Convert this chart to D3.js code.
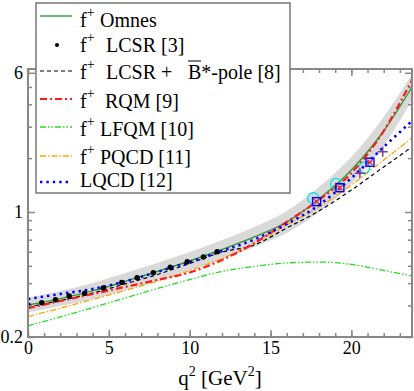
<!DOCTYPE html>
<html>
<head>
<meta charset="utf-8">
<script src="https://cdn.jsdelivr.net/npm/d3@7"></script>
<style>
body{margin:0;background:#fff}
text{font-family:"Liberation Serif","Times New Roman",serif}
</style>
</head>
<body>
<div id="chart"></div>
<script>
// q^2 grid (GeV^2) the curves were read at
var qGrid = [0, 2, 4, 6, 8, 10, 12, 14, 16, 18, 20, 22, 23.75];

var omnes     = [0.302, 0.328, 0.362, 0.409, 0.465, 0.532, 0.617, 0.725, 0.879, 1.182, 1.717, 2.836, 4.997];
var omnesHigh = [0.332, 0.362, 0.401, 0.456, 0.519, 0.597, 0.697, 0.824, 1.013, 1.379, 2.030, 3.396, 5.906];
var omnesLow  = [0.274, 0.298, 0.326, 0.366, 0.414, 0.474, 0.546, 0.637, 0.763, 1.000, 1.434, 2.338, 4.227];
var lcsrPole  = [0.294, 0.320, 0.352, 0.396, 0.447, 0.515, 0.597, 0.654, 0.814, 1.013, 1.327, 1.785, 2.308];
var rqm       = [0.290, 0.318, 0.348, 0.381, 0.417, 0.459, 0.539, 0.670, 0.879, 1.167, 1.652, 2.836, 5.468];
var lfqm      = [0.231, 0.259, 0.292, 0.330, 0.373, 0.419, 0.465, 0.496, 0.519, 0.525, 0.509, 0.471, 0.439];
var pqcd      = [0.260, 0.290, 0.324, 0.364, 0.411, 0.471, 0.549, 0.666, 0.846, 1.066, 1.415, 1.953, 2.592];
var lqcd      = [0.326, 0.348, 0.371, 0.409, 0.462, 0.525, 0.605, 0.702, 0.856, 1.094, 1.548, 2.308, 3.226];

// LCSR points [3]
var lcsrQ = [0, 0.85, 1.7, 2.55, 3.5, 4.65, 5.8, 6.75, 7.75, 8.8, 9.85, 10.85, 11.7];
var lcsrF = [0.302, 0.311, 0.323, 0.339, 0.351, 0.376, 0.404, 0.429, 0.458, 0.491, 0.527, 0.560, 0.600];

// lattice points near q^2 max
var circleQ = [17.64, 19.05, 20.8];
var circleF = [1.193, 1.434, 1.769];
var squareQ = [17.85, 19.29, 21.15];
var squareF = [1.142, 1.367, 1.897];
var plusQ = [20.53, 21.94];
var plusF = [1.646, 2.174];

var xMajor = [0, 5, 10, 15, 20];
var xMinor = d3.range(0, 24);
var yMajor = [0.2, 1, 6];
var yMinor = [0.3, 0.4, 0.5, 0.6, 0.7, 0.8, 0.9, 2, 3, 4, 5];

var width = 414, height = 391;
var plot = {left: 28, right: 412, top: 69, bottom: 337};

var x = d3.scaleLinear().domain([0, 23.75]).range([plot.left, plot.right]);
var y = d3.scaleLog().domain([0.2, 6.3]).range([plot.bottom, plot.top]);

var svg = d3.select('#chart').append('svg')
  .attr('width', width).attr('height', height);

svg.append('clipPath').attr('id', 'clip')
  .append('rect')
  .attr('x', plot.left).attr('y', plot.top)
  .attr('width', plot.right - plot.left).attr('height', plot.bottom - plot.top);

var body = svg.append('g').attr('clip-path', 'url(#clip)');

// uncertainty band of the Omnes result
var band = d3.area()
  .x(function(d){ return x(d.q); })
  .y0(function(d){ return y(d.lo); })
  .y1(function(d){ return y(d.hi); })
  .curve(d3.curveMonotoneX);

body.append('path')
  .datum(qGrid.map(function(q, i){ return {q: q, lo: omnesLow[i], hi: omnesHigh[i]}; }))
  .attr('d', band)
  .attr('fill', '#d9d9d9');

var line = d3.line()
  .x(function(d){ return x(d.q); })
  .y(function(d){ return y(d.f); })
  .curve(d3.curveMonotoneX);

var curves = [
  {vals: lfqm,     color: '#22dd22', w: 1.3, dash: '6,2,1.5,2,1.5,2'},
  {vals: pqcd,     color: '#ffa500', w: 1.3, dash: '6,2,1.5,2'},
  {vals: lcsrPole, color: '#000000', w: 1.2, dash: '4,3'},
  {vals: omnes,    color: '#2e9a2e', w: 1.4, dash: null},
  {vals: rqm,      color: '#ff1a1a', w: 2.2, dash: '7,3,2,3'},
  {vals: lqcd,     color: '#0000ff', w: 2.6, dash: '2.4,4'}
];

curves.forEach(function(c){
  body.append('path')
    .datum(qGrid.map(function(q, i){ return {q: q, f: c.vals[i]}; }))
    .attr('d', line)
    .attr('fill', 'none')
    .attr('stroke', c.color)
    .attr('stroke-width', c.w)
    .attr('stroke-dasharray', c.dash);
});

// LCSR dots
body.selectAll('circle.lcsr').data(lcsrQ).enter().append('circle')
  .attr('class', 'lcsr')
  .attr('cx', function(d){ return x(d); })
  .attr('cy', function(d, i){ return y(lcsrF[i]); })
  .attr('r', 2.7)
  .attr('fill', '#000');

// lattice markers
body.selectAll('circle.cyan').data(circleQ).enter().append('circle')
  .attr('cx', function(d){ return x(d); })
  .attr('cy', function(d, i){ return y(circleF[i]); })
  .attr('r', 5.5)
  .attr('fill', 'none').attr('stroke', '#00e5e5').attr('stroke-width', 1.3);

var sq = body.selectAll('g.sq').data(squareQ).enter().append('g')
  .attr('transform', function(d, i){ return 'translate(' + x(d) + ',' + y(squareF[i]) + ')'; });
sq.append('rect').attr('x', -4).attr('y', -4).attr('width', 8).attr('height', 8)
  .attr('fill', 'none').attr('stroke', '#0000ff').attr('stroke-width', 1.4);
sq.append('path').attr('d', 'M-2.5,-2.5L2.5,2.5M-2.5,2.5L2.5,-2.5')
  .attr('stroke', '#ff2020').attr('stroke-width', 1.3);

body.selectAll('path.plus').data(plusQ).enter().append('path')
  .attr('transform', function(d, i){ return 'translate(' + x(d) + ',' + y(plusF[i]) + ')'; })
  .attr('d', 'M-5,0H5M0,-5V5')
  .attr('stroke', '#8b3a8b').attr('stroke-width', 1.5);

// axes
function styleAxis(g){
  g.select('.domain').remove();
  g.selectAll('line').attr('stroke', '#888').attr('stroke-width', 1.5);
  g.selectAll('text').attr('fill', '#000').attr('font-size', 18)
    .attr('font-family', '"Liberation Serif","Times New Roman",serif');
}

svg.append('g').attr('transform', 'translate(0,' + plot.bottom + ')')
  .call(d3.axisBottom(x).tickValues(xMinor).tickSize(-4).tickFormat(''))
  .call(styleAxis);
svg.append('g').attr('transform', 'translate(0,' + plot.bottom + ')')
  .call(d3.axisBottom(x).tickValues(xMajor).tickSize(-7).tickPadding(4).tickFormat(d3.format('d')))
  .call(styleAxis);
svg.append('g').attr('transform', 'translate(0,' + plot.top + ')')
  .call(d3.axisTop(x).tickValues(xMinor).tickSize(-4).tickFormat(''))
  .call(styleAxis);
svg.append('g').attr('transform', 'translate(0,' + plot.top + ')')
  .call(d3.axisTop(x).tickValues(xMajor).tickSize(-7).tickFormat(''))
  .call(styleAxis);

svg.append('g').attr('transform', 'translate(' + plot.left + ',0)')
  .call(d3.axisLeft(y).tickValues(yMinor).tickSize(-4).tickFormat(''))
  .call(styleAxis);
svg.append('g').attr('transform', 'translate(' + plot.left + ',0)')
  .call(d3.axisLeft(y).tickValues(yMajor).tickSize(-7).tickPadding(5).tickFormat(function(d){ return d; }))
  .call(styleAxis);
svg.append('g').attr('transform', 'translate(' + plot.right + ',0)')
  .call(d3.axisRight(y).tickValues(yMinor).tickSize(-4).tickFormat(''))
  .call(styleAxis);
svg.append('g').attr('transform', 'translate(' + plot.right + ',0)')
  .call(d3.axisRight(y).tickValues(yMajor).tickSize(-7).tickFormat(''))
  .call(styleAxis);

svg.append('rect')
  .attr('x', plot.left).attr('y', plot.top)
  .attr('width', plot.right - plot.left).attr('height', plot.bottom - plot.top)
  .attr('fill', 'none').attr('stroke', '#888').attr('stroke-width', 2);

// x title
var xt = svg.append('text')
  .attr('x', 220).attr('y', 385)
  .attr('text-anchor', 'middle')
  .attr('font-size', 21);
xt.append('tspan').text('q');
xt.append('tspan').attr('font-size', 14).attr('dy', -9).text('2');
xt.append('tspan').attr('dy', 9).text('\u00a0[GeV');
xt.append('tspan').attr('font-size', 14).attr('dy', -9).text('2');
xt.append('tspan').attr('dy', 9).text(']');

// legend
var legendItems = [
  {f: true,  text: 'Omnes',     tx: 100, base: 27,  ly: 16,  color: '#2e9a2e', w: 1.4, dash: null},
  {f: true,  text: 'LCSR [3]',  tx: 106, base: 52,  ly: 45,  dot: true},
  {f: true,  text: 'LCSR +',    tx: 106, base: 79,  ly: 71,  color: '#000', w: 1.2, dash: '4,3', pole: true},
  {f: true,  text: 'RQM [9]',   tx: 105, base: 108, ly: 99,  color: '#ff1a1a', w: 2.2, dash: '7,3,2,3'},
  {f: true,  text: 'LFQM [10]', tx: 100, base: 136, ly: 127, color: '#22dd22', w: 1.3, dash: '6,2,1.5,2,1.5,2'},
  {f: true,  text: 'PQCD [11]', tx: 100, base: 164, ly: 156, color: '#ffa500', w: 1.3, dash: '6,2,1.5,2'},
  {f: false, text: 'LQCD [12]', tx: 80,  base: 187, ly: 182, color: '#0000ff', w: 2.6, dash: '2.4,4'}
];

var legend = svg.append('g');
legend.append('rect')
  .attr('x', 36).attr('y', 3).attr('width', 254).attr('height', 190)
  .attr('fill', '#fff').attr('stroke', '#777').attr('stroke-width', 1.5);

legendItems.forEach(function(it){
  if (it.dot) {
    legend.append('circle').attr('cx', 57).attr('cy', it.ly).attr('r', 2).attr('fill', '#000');
  } else {
    legend.append('line')
      .attr('x1', 40).attr('x2', 72).attr('y1', it.ly).attr('y2', it.ly)
      .attr('stroke', it.color).attr('stroke-width', it.w)
      .attr('stroke-dasharray', it.dash);
  }
  var t = legend.append('text').attr('x', 80).attr('y', it.base).attr('font-size', 20);
  if (it.f) {
    t.append('tspan').text('f');
    t.append('tspan').attr('font-size', 14).attr('dy', -10).text('+');
    t.append('tspan').attr('x', it.tx).attr('dy', 10).text(it.text);
  } else {
    t.text(it.text);
  }
  if (it.pole) {
    t.append('tspan').attr('x', 188).text('B*-pole [8]');
    legend.append('line').attr('x1', 188).attr('x2', 201).attr('y1', 61).attr('y2', 61)
      .attr('stroke', '#000').attr('stroke-width', 1);
  }
});
</script>
</body>
</html>
